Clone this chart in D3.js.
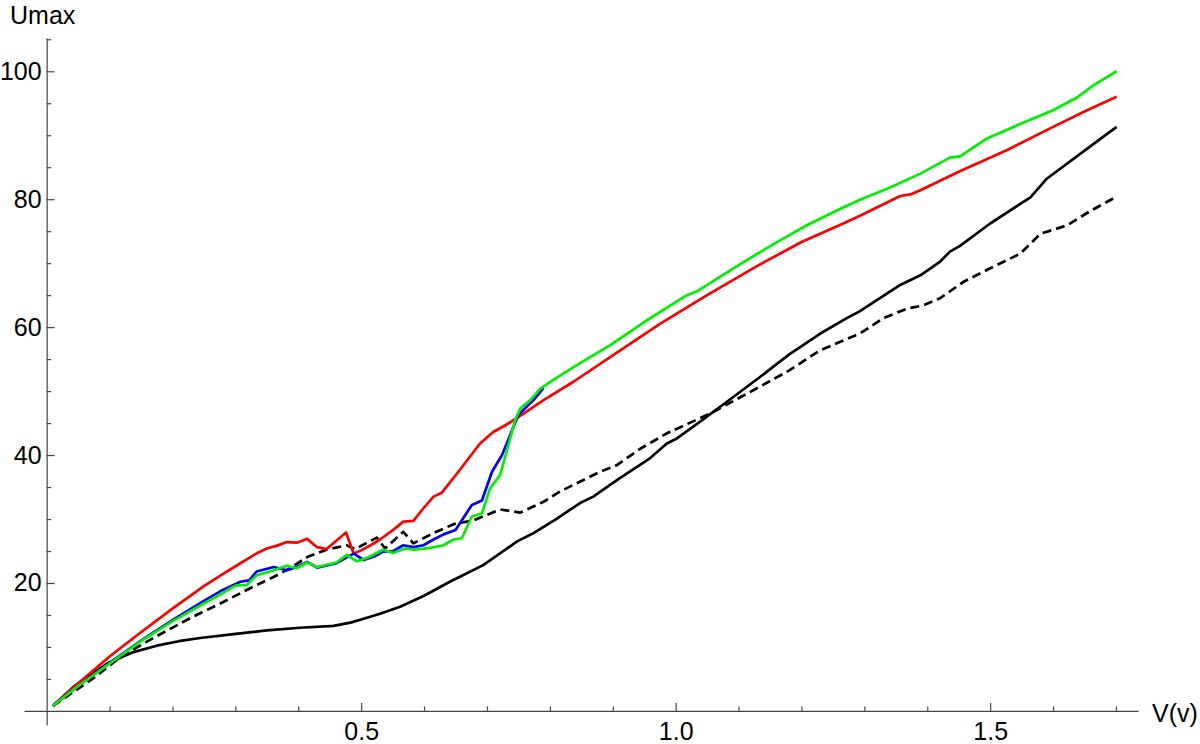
<!DOCTYPE html>
<html><head><meta charset="utf-8">
<script src="https://cdn.jsdelivr.net/npm/d3@7"></script>
<style>
html,body{margin:0;padding:0;background:#fff;}
svg{display:block;font-family:"Liberation Sans",Arial,sans-serif;}
</style></head>
<body>
<svg id="chart" width="1200" height="744"></svg>
<script>
// ---- data ----
const xMajorTicks = [0.5, 1.0, 1.5];
const xTickLabels = ["0.5", "1.0", "1.5"];
const yMajorTicks = [20, 40, 60, 80, 100];
const yTickLabels = ["20", "40", "60", "80", "100"];
const xLabel = "V(v)";
const yLabel = "Umax";

const solidBlack = [[0.01,0.8],[0.043,3.8],[0.096,7.4],[0.138,9.2],[0.175,10.2],[0.21,10.9],[0.244,11.4],[0.297,12.0],[0.35,12.6],[0.403,13.0],[0.456,13.3],[0.483,13.8],[0.5,14.3],[0.53,15.2],[0.562,16.3],[0.6,18.0],[0.641,20.2],[0.694,22.8],[0.748,26.5],[0.774,27.8],[0.81,30.0],[0.848,32.5],[0.869,33.5],[0.91,36.3],[0.959,39.5],[0.986,41.8],[1.002,42.6],[1.04,45.3],[1.081,48.3],[1.134,52.2],[1.18,55.7],[1.23,59.0],[1.272,61.4],[1.293,62.5],[1.357,66.6],[1.389,68.1],[1.42,70.2],[1.436,71.8],[1.452,72.7],[1.5,76.2],[1.564,80.3],[1.59,83.2],[1.65,87.6],[1.701,91.3]];

const dashedBlack = [[0.01,0.8],[0.07,4.8],[0.12,8.6],[0.175,11.7],[0.23,14.6],[0.276,16.8],[0.308,18.4],[0.33,19.5],[0.36,20.9],[0.385,22.2],[0.415,24.1],[0.445,25.2],[0.477,25.9],[0.49,25.3],[0.525,27.1],[0.538,25.4],[0.567,28.0],[0.583,26.2],[0.615,27.8],[0.647,29.2],[0.679,29.8],[0.721,31.5],[0.753,31.0],[0.79,32.7],[0.816,34.3],[0.88,37.4],[0.906,38.4],[0.944,41.0],[0.986,43.4],[1.055,46.5],[1.134,50.7],[1.18,53.2],[1.23,56.4],[1.293,59.0],[1.33,61.4],[1.368,62.9],[1.394,63.4],[1.42,64.5],[1.458,67.1],[1.5,69.2],[1.548,71.5],[1.58,74.6],[1.622,75.9],[1.66,78.2],[1.701,80.4]];

const redSeries = [[0.01,0.8],[0.05,4.3],[0.1,8.5],[0.15,12.3],[0.2,16.0],[0.25,19.5],[0.28,21.4],[0.31,23.2],[0.335,24.7],[0.35,25.4],[0.365,25.8],[0.382,26.4],[0.398,26.3],[0.414,26.9],[0.43,25.6],[0.445,25.3],[0.476,27.9],[0.488,24.6],[0.5,25.1],[0.515,25.9],[0.53,26.8],[0.551,28.3],[0.567,29.6],[0.583,29.7],[0.6,31.8],[0.615,33.5],[0.628,34.1],[0.657,37.7],[0.689,41.8],[0.71,43.6],[0.73,44.7],[0.748,45.8],[0.79,48.6],[0.838,51.5],[0.9,55.6],[0.975,60.5],[1.05,65.0],[1.134,69.8],[1.2,73.3],[1.262,76.0],[1.293,77.4],[1.357,80.5],[1.375,80.8],[1.389,81.4],[1.45,84.3],[1.527,87.7],[1.6,91.3],[1.654,93.9],[1.701,96.0]];

const blueSeries = [[0.01,0.8],[0.05,3.9],[0.1,7.5],[0.15,11.0],[0.2,14.2],[0.25,17.2],[0.276,18.7],[0.308,20.2],[0.322,20.4],[0.334,21.8],[0.361,22.5],[0.382,22.0],[0.398,22.5],[0.414,23.3],[0.43,22.4],[0.461,23.1],[0.488,24.6],[0.504,23.6],[0.52,24.1],[0.535,24.9],[0.551,25.0],[0.567,25.9],[0.583,25.6],[0.599,25.9],[0.615,26.8],[0.631,27.6],[0.65,28.3],[0.676,32.2],[0.692,32.9],[0.708,37.4],[0.724,40.0],[0.75,46.3],[0.774,48.6],[0.79,50.5]];

const greenSeries = [[0.01,0.8],[0.05,3.9],[0.1,7.4],[0.15,10.9],[0.2,14.0],[0.25,16.8],[0.276,18.2],[0.3,19.6],[0.318,19.7],[0.334,21.2],[0.355,21.8],[0.382,22.7],[0.398,22.3],[0.414,23.2],[0.43,22.5],[0.461,23.2],[0.477,24.4],[0.493,23.4],[0.509,23.9],[0.535,25.2],[0.551,24.7],[0.57,25.4],[0.583,25.2],[0.61,25.5],[0.631,25.9],[0.647,26.8],[0.66,27.0],[0.676,30.4],[0.692,30.9],[0.705,34.8],[0.721,36.9],[0.745,45.5],[0.753,47.3],[0.769,48.6],[0.785,50.4],[0.806,51.8],[0.85,54.5],[0.896,57.2],[0.95,60.8],[1.0,63.9],[1.018,65.0],[1.034,65.6],[1.1,69.7],[1.161,73.3],[1.21,76.0],[1.262,78.5],[1.293,79.9],[1.34,81.8],[1.389,84.0],[1.436,86.5],[1.452,86.7],[1.495,89.5],[1.558,92.2],[1.6,93.9],[1.638,95.9],[1.664,97.8],[1.701,100]];

// ---- chart ----
const svg = d3.select("#chart");
const x = d3.scaleLinear().domain([-0.036, 1.735]).range([24, 1138]);
const y = d3.scaleLinear().domain([-2.2, 105.2]).range([725, 38]);
const axisColor = "#444";
const tickFont = 25;

// x axis
const xMinor = d3.range(1, 18).map(i => i / 10).filter(v => !xMajorTicks.some(m => Math.abs(m - v) < 1e-9));
const gx = svg.append("g").attr("transform", `translate(0,${y(0)})`);
gx.call(d3.axisBottom(x).tickValues(xMajorTicks).tickFormat((d, i) => xTickLabels[i]).tickSizeInner(-8).tickSizeOuter(0).tickPadding(11));
gx.append("g").call(d3.axisBottom(x).tickValues(xMinor).tickFormat("").tickSizeInner(-4.5).tickSizeOuter(0))
  .select(".domain").remove();

// y axis
const yMinor = d3.range(1, 22).map(i => i * 5).filter(v => !yMajorTicks.includes(v));
const gy = svg.append("g").attr("transform", `translate(${x(0)},0)`);
gy.call(d3.axisLeft(y).tickValues(yMajorTicks).tickFormat((d, i) => yTickLabels[i]).tickSizeInner(-8).tickSizeOuter(0).tickPadding(5));
gy.append("g").call(d3.axisLeft(y).tickValues(yMinor).tickFormat("").tickSizeInner(-4.5).tickSizeOuter(0))
  .select(".domain").remove();

svg.selectAll(".tick line, .domain").attr("stroke", axisColor).attr("stroke-width", 1.2);
svg.selectAll(".tick text").attr("font-size", tickFont).attr("fill", "#000").attr("font-family", "Liberation Sans, Arial, sans-serif");

// axis labels
svg.append("text").attr("x", x(1.735) + 14).attr("y", y(0) + 11).attr("font-size", 25).text(xLabel);
svg.append("text").attr("x", 10).attr("y", 23.5).attr("font-size", 25).text(yLabel);

// lines
const line = d3.line().x(d => x(d[0])).y(d => y(d[1]));
const series = [
  { data: solidBlack, color: "#000", dash: null },
  { data: dashedBlack, color: "#000", dash: "9,5" },
  { data: redSeries, color: "#ff0000", dash: null },
  { data: blueSeries, color: "#0000ff", dash: null },
  { data: greenSeries, color: "#00f000", dash: null }
];
svg.append("g").selectAll("path").data(series).join("path")
  .attr("d", d => line(d.data))
  .attr("fill", "none")
  .attr("stroke", d => d.color)
  .attr("stroke-width", 2.7)
  .attr("stroke-linejoin", "round")
  .attr("stroke-dasharray", d => d.dash);
</script>
</body></html>
